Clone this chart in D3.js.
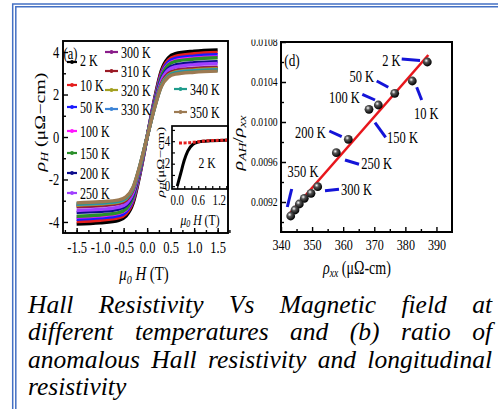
<!DOCTYPE html>
<html>
<head>
<meta charset="utf-8">
<script src="https://cdn.jsdelivr.net/npm/d3@7/dist/d3.min.js"></script>
<style>
  html, body { margin: 0; padding: 0; background: #fff; }
  svg { display: block; }
  text { font-family: "Liberation Serif", "Times New Roman", serif; fill: #000; }
</style>
</head>
<body>
<svg id="fig" width="498" height="409"></svg>
<script>
// ---------- Panel (a): Hall resistivity ρH (μΩ·cm) vs μ0H (T) ----------
const fieldT = [-1.5, -1.0, -0.6, -0.45, -0.3, -0.15, 0, 0.15, 0.3, 0.45, 0.6, 1.0, 1.5];
const rhoH_2K   = [-4.10, -4.04, -3.92, -3.73, -3.12, -1.72, 0, 1.72, 3.12, 3.73, 3.92, 4.04, 4.10];
const rhoH_10K  = [-3.98, -3.92, -3.80, -3.62, -3.02, -1.67, 0, 1.67, 3.02, 3.62, 3.80, 3.92, 3.98];
const rhoH_50K  = [-3.87, -3.81, -3.70, -3.52, -2.94, -1.63, 0, 1.63, 2.94, 3.52, 3.70, 3.81, 3.87];
const rhoH_100K = [-3.77, -3.71, -3.60, -3.43, -2.87, -1.58, 0, 1.58, 2.87, 3.43, 3.60, 3.71, 3.77];
const rhoH_150K = [-3.73, -3.67, -3.56, -3.39, -2.83, -1.57, 0, 1.57, 2.83, 3.39, 3.56, 3.67, 3.73];
const rhoH_200K = [-3.55, -3.50, -3.39, -3.23, -2.70, -1.49, 0, 1.49, 2.70, 3.23, 3.39, 3.50, 3.55];
const rhoH_250K = [-3.46, -3.41, -3.30, -3.15, -2.63, -1.45, 0, 1.45, 2.63, 3.15, 3.30, 3.41, 3.46];
const rhoH_300K = [-3.29, -3.24, -3.14, -2.99, -2.50, -1.38, 0, 1.38, 2.50, 2.99, 3.14, 3.24, 3.29];
const rhoH_310K = [-3.25, -3.20, -3.10, -2.96, -2.47, -1.37, 0, 1.37, 2.47, 2.96, 3.10, 3.20, 3.25];
const rhoH_320K = [-3.21, -3.16, -3.07, -2.92, -2.44, -1.35, 0, 1.35, 2.44, 2.92, 3.07, 3.16, 3.21];
const rhoH_330K = [-3.17, -3.12, -3.03, -2.88, -2.41, -1.33, 0, 1.33, 2.41, 2.88, 3.03, 3.12, 3.17];
const rhoH_340K = [-3.14, -3.09, -3.00, -2.86, -2.39, -1.32, 0, 1.32, 2.39, 2.86, 3.00, 3.09, 3.14];
const rhoH_350K = [-3.10, -3.05, -2.96, -2.82, -2.36, -1.30, 0, 1.30, 2.36, 2.82, 2.96, 3.05, 3.10];

const tempLabels = ["2 K", "10 K", "50 K", "100 K", "150 K", "200 K", "250 K",
                    "300 K", "310 K", "320 K", "330 K", "340 K", "350 K"];
const tempColors = ["#000000", "#e41e1e", "#1a1aff", "#ff14ff", "#2a8f2a", "#0c0c8c", "#a040ff",
                    "#8a1c8a", "#9a1a24", "#a3a020", "#3c84d6", "#1f9c8c", "#9c7a52"];
const hallCurves = [rhoH_2K, rhoH_10K, rhoH_50K, rhoH_100K, rhoH_150K, rhoH_200K, rhoH_250K,
                    rhoH_300K, rhoH_310K, rhoH_320K, rhoH_330K, rhoH_340K, rhoH_350K];

// Inset: 2 K curve (black) and anomalous part (red)
const insetFieldBlack = [0, 0.1, 0.2, 0.3, 0.45, 0.6, 0.8, 1.0, 1.2, 1.45];
const insetRhoBlack   = [0, 1.15, 2.3, 3.12, 3.73, 3.92, 4.00, 4.04, 4.07, 4.10];
const insetFieldRed   = [0.05, 0.15, 0.25, 0.35, 0.45, 0.6, 0.8, 1.0, 1.2, 1.45];
const insetRhoRed     = [3.84, 3.84, 3.85, 3.87, 3.90, 3.96, 4.02, 4.06, 4.08, 4.10];

// ---------- Panel (d): ρAH/ρxx vs ρxx ----------
const ratioTemps = ["2 K", "10 K", "50 K", "100 K", "150 K", "200 K", "250 K",
                    "300 K", "310 K", "320 K", "330 K", "340 K", "350 K"];
const rhoXX     = [387.06, 382.23, 376.57, 371.30, 368.30, 361.65, 357.79, 351.80, 349.65, 347.49, 345.89, 344.50, 343.12];
const ratioAHxx = [0.01060, 0.01041, 0.010287, 0.01017, 0.010127, 0.009827, 0.009693, 0.009353, 0.009287, 0.009237, 0.00918, 0.00912, 0.00906];
const fitRhoXX  = [342.35, 387.38];
const fitRatio  = [0.00907, 0.01067];

// Tick values
const hallFieldTicks = [-1.5, -1.0, -0.5, 0, 0.5, 1.0, 1.5];
const hallRhoTicks   = [-4, -2, 0, 2, 4];
const insetFieldTicks = [0, 0.6, 1.2];
const insetRhoTicks   = [0, 2, 4];
const rhoXXTicks = [340, 350, 360, 370, 380, 390];
const ratioTicks = [0.0092, 0.0096, 0.0100, 0.0104, 0.0108];

const captionLines = [
  "Hall Resistivity Vs Magnetic field at",
  "different temperatures and (b) ratio of",
  "anomalous Hall resistivity and longitudinal",
  "resistivity"
];

// ---------- drawing ----------
const svg = d3.select("#fig");
const defs = svg.append("defs");
const SQ = 0.78;   // horizontal squeeze of the figure lettering

// text helper: parts = string or [{t, it, sub}]
function label(parent, x, y, parts, o = {}) {
  const size = o.size || 15;
  const t = parent.append("text")
    .attr("transform", `translate(${x},${y}) scale(${o.sx ?? SQ},1)` + (o.rot ? ` rotate(${o.rot})` : ""))
    .attr("font-size", size)
    .attr("text-anchor", o.anchor || "middle")
    .attr("dominant-baseline", "central");
  if (typeof parts === "string") { t.text(parts); return t; }
  let shift = 0;
  parts.forEach(p => {
    const s = t.append("tspan").text(p.t);
    const target = p.sub ? size * 0.32 : 0;
    if (target !== shift) { s.attr("dy", target - shift); shift = target; }
    if (p.sub) s.attr("font-size", size * 0.68);
    if (p.it) s.attr("font-style", "italic");
  });
  return t;
}

function styleAxis(g, w) {
  g.attr("font-family", null).attr("font-size", null);
  g.select(".domain").remove();
  g.selectAll(".tick line").attr("stroke", "#000").attr("stroke-width", w || 1.4);
}

// Outer blue double border
const frame = svg.append("g").attr("fill", "none").attr("stroke", "#4470c4").attr("stroke-width", 1.5);
frame.append("path").attr("d", "M12.7,420 V4 H510");
frame.append("path").attr("d", "M15.8,420 V6.8 H510");

// ===== Panel (a) =====
const gA = svg.append("g");
const xA = d3.scaleLinear().domain([-1.79, 1.72]).range([63, 228]);
const yA = d3.scaleLinear().domain([-4.52, 4.52]).range([233, 41]);
const lineA = d3.line().x(d => xA(d[0])).y(d => yA(d[1])).curve(d3.curveMonotoneX);

gA.append("g").selectAll("path")
  .data(hallCurves.map((vals, i) => ({ color: tempColors[i], pts: fieldT.map((h, j) => [h, vals[j]]) })))
  .join("path")
  .attr("d", d => lineA(d.pts))
  .attr("fill", "none")
  .attr("stroke", d => d.color)
  .attr("stroke-width", 3.4)
  .attr("stroke-linejoin", "round");

// Inset
const xI = d3.scaleLinear().domain([-0.15, 1.45]).range([172, 228]);
const yI = d3.scaleLinear().domain([-0.25, 5.35]).range([189, 126]);
gA.append("rect").attr("x", 172).attr("y", 126).attr("width", 56).attr("height", 63)
  .attr("fill", "#fff");
defs.append("clipPath").attr("id", "insetClip")
  .append("rect").attr("x", 172).attr("y", 126).attr("width", 56).attr("height", 63);
const gI = gA.append("g").attr("clip-path", "url(#insetClip)");
const lineI = d3.line().x(d => xI(d[0])).y(d => yI(d[1])).curve(d3.curveMonotoneX);
gI.append("path").attr("d", lineI(insetFieldBlack.map((h, i) => [h, insetRhoBlack[i]])))
  .attr("fill", "none").attr("stroke", "#000").attr("stroke-width", 3);
gI.append("path").attr("d", lineI(insetFieldRed.map((h, i) => [h, insetRhoRed[i]])))
  .attr("fill", "none").attr("stroke", "#e41e1e").attr("stroke-width", 3).attr("stroke-dasharray", "3 1.6");

gA.append("g").attr("transform", "translate(0,189)")
  .call(d3.axisBottom(xI).tickValues(d3.range(0, 1.41, 0.2)).tickSize(-3).tickFormat(""))
  .call(styleAxis, 1.2);
gA.append("g").attr("transform", "translate(172,0)")
  .call(d3.axisLeft(yI).tickValues(d3.range(0, 5.1, 1)).tickSize(-3).tickFormat(""))
  .call(styleAxis, 1.2);
gA.append("rect").attr("x", 172).attr("y", 126).attr("width", 56).attr("height", 63)
  .attr("fill", "none").attr("stroke", "#000").attr("stroke-width", 1.7);
insetRhoTicks.forEach(v => label(gA, 167.5, yI(v), String(v), { size: 14 }));
insetFieldTicks.forEach(v => label(gA, xI(v), 201, v.toFixed(1), { size: 14 }));
label(gA, 207, 163, "2 K", { size: 15 });
label(gA, 200, 219, [{ t: "μ", it: true }, { t: "0", sub: true, it: true }, { t: " H", it: true }, { t: " (T)" }], { size: 15 });
label(gA, 160, 162, [{ t: "ρ", it: true }, { t: "H", sub: true, it: true }, { t: "(μΩ−cm)" }], { size: 15, rot: -90, sx: 0.72 });

// Main frame and ticks of (a)
gA.append("rect").attr("x", 63).attr("y", 41).attr("width", 165).attr("height", 192)
  .attr("fill", "none").attr("stroke", "#000").attr("stroke-width", 1.9);
const axXA = gA.append("g").attr("transform", "translate(0,233)")
  .call(d3.axisBottom(xA).tickValues(hallFieldTicks).tickSize(-5).tickPadding(9).tickFormat(v => v.toFixed(1)))
  .call(styleAxis);
gA.append("g").attr("transform", "translate(0,233)")
  .call(d3.axisBottom(xA).tickValues(d3.range(-1.75, 1.76, 0.25)).tickSize(-3).tickFormat(""))
  .call(styleAxis);
const axYA = gA.append("g").attr("transform", "translate(63,0)")
  .call(d3.axisLeft(yA).tickValues(hallRhoTicks).tickSize(-5).tickPadding(5).tickFormat(v => String(v)))
  .call(styleAxis);
gA.append("g").attr("transform", "translate(63,0)")
  .call(d3.axisLeft(yA).tickValues([-3, -1, 1, 3]).tickSize(-3).tickFormat(""))
  .call(styleAxis);
[axXA, axYA].forEach(ax => ax.selectAll("text").attr("font-size", 16).attr("transform", `scale(${SQ},1)`));

label(gA, 144, 273, [{ t: "μ", it: true }, { t: "0", sub: true, it: true }, { t: " H", it: true }, { t: " (T)" }], { size: 19 });
label(gA, 40, 122, [{ t: "ρ", it: true }, { t: "H", sub: true, it: true }, { t: " (μΩ−cm)" }], { size: 20, rot: -90, sx: 0.72 });
label(gA, 70.5, 53, "(a)", { size: 16 });

// Legend of (a)
const legendSpots = [[67, 62], [67, 85], [67, 107], [67, 131], [67, 153], [67, 173], [67, 193],
                     [105, 52], [105, 71], [105, 90], [105, 109], [174, 89], [174, 112]];
const legG = gA.append("g");
tempLabels.forEach((lab, i) => {
  const [lx, ly] = legendSpots[i];
  const w = i < 7 ? 10 : 13;
  legG.append("line").attr("x1", lx).attr("x2", lx + w).attr("y1", ly).attr("y2", ly)
    .attr("stroke", tempColors[i]).attr("stroke-width", 2.2);
  legG.append("circle").attr("cx", lx + w / 2).attr("cy", ly).attr("r", 1.9).attr("fill", tempColors[i]);
  const tx = i === 0 ? lx + 13 : lx + w + 3;
  label(legG, tx, i === 0 ? ly - 2 : ly, lab, { size: 16, anchor: "start", sx: 0.75 });
});

// ===== Panel (d) =====
const gD = svg.append("g");
const xD = d3.scaleLinear().domain([340, 395]).range([281, 452]);
const yD = d3.scaleLinear().domain([0.0089, 0.0108]).range([232, 42]);

const grad = defs.append("radialGradient").attr("id", "ball")
  .attr("cx", "38%").attr("cy", "35%").attr("r", "65%");
grad.append("stop").attr("offset", "0%").attr("stop-color", "#ffffff");
grad.append("stop").attr("offset", "35%").attr("stop-color", "#555");
grad.append("stop").attr("offset", "100%").attr("stop-color", "#000");

gD.append("rect").attr("x", 281).attr("y", 42).attr("width", 171).attr("height", 190)
  .attr("fill", "none").attr("stroke", "#000").attr("stroke-width", 2);

const axXD = gD.append("g").attr("transform", "translate(0,232)")
  .call(d3.axisBottom(xD).tickValues(rhoXXTicks).tickSize(-5).tickPadding(7).tickFormat(d3.format("d")))
  .call(styleAxis);
gD.append("g").attr("transform", "translate(0,232)")
  .call(d3.axisBottom(xD).tickValues(d3.range(345, 395, 10)).tickSize(-3).tickFormat(""))
  .call(styleAxis);
// the top tick label is cut by the upper edge of the figure image
defs.append("clipPath").attr("id", "topCut")
  .append("rect").attr("x", -300).attr("y", 39.5).attr("width", 800).attr("height", 400);
const axYD = gD.append("g").attr("transform", "translate(281,0)")
  .call(d3.axisLeft(yD).tickValues(ratioTicks).tickSize(-5).tickPadding(4).tickFormat(d3.format(".4f")))
  .call(styleAxis);
axYD.attr("clip-path", "url(#topCut)");
gD.append("g").attr("transform", "translate(281,0)")
  .call(d3.axisLeft(yD).tickValues([0.0090, 0.0094, 0.0098, 0.0102, 0.0106]).tickSize(-3).tickFormat(""))
  .call(styleAxis);
axXD.selectAll("text").attr("font-size", 15.5).attr("transform", `scale(${SQ},1)`);
axYD.selectAll("text").attr("font-size", 11.5).attr("transform", "scale(0.84,1)");

// linear fit
gD.append("line")
  .attr("x1", xD(fitRhoXX[0])).attr("y1", yD(fitRatio[0]))
  .attr("x2", xD(fitRhoXX[1])).attr("y2", yD(fitRatio[1]))
  .attr("stroke", "#e8161c").attr("stroke-width", 2.6);

// leader lines and temperature labels: offsets from each point (px)
const tagLayout = {
  "2 K":   { lab: [-36, -2],  a: [-25.6, -3],   b: [-7.3, -1.6] },
  "10 K":  { lab: [14, 32],   a: [4.4, 6.3],    b: [9.4, 19] },
  "50 K":  { lab: [-33, -17], a: [-18, -12.3],  b: [-6.4, -6] },
  "100 K": { lab: [-34, -8],  a: [-16, -10.7],  b: [-3.3, -5] },
  "150 K": { lab: [33.5, 27.7], a: [6, 13.4],   b: [16.7, 28] },
  "200 K": { lab: [-38, -7],  a: [-19, -8.3],   b: [-6.6, -2.6] },
  "250 K": { lab: [40.4, 10.3], a: [8.7, 7.3],  b: [22.7, 11.6] },
  "300 K": { lab: [38.8, 2.3], a: [7.3, 4],     b: [21.3, 2.6] },
  "350 K": { lab: [12.3, -45], a: [1, -27],     b: [-3.4, -9] }
};
ratioTemps.forEach((tname, i) => {
  const L = tagLayout[tname];
  if (!L) return;
  const px = xD(rhoXX[i]), py = yD(ratioAHxx[i]);
  gD.append("line")
    .attr("x1", px + L.a[0]).attr("y1", py + L.a[1])
    .attr("x2", px + L.b[0]).attr("y2", py + L.b[1])
    .attr("stroke", "#1414d8").attr("stroke-width", 3);
  label(gD, px + L.lab[0], py + L.lab[1], tname, { size: 16, sx: 0.78 });
});

// data points
gD.append("g").selectAll("circle")
  .data(rhoXX.map((x, i) => [x, ratioAHxx[i]]))
  .join("circle")
  .attr("cx", d => xD(d[0])).attr("cy", d => yD(d[1])).attr("r", 4.4)
  .attr("fill", "url(#ball)");

label(gD, 292, 60, "(d)", { size: 17 });
label(gD, 357, 267, [{ t: "ρ", it: true }, { t: "xx", sub: true, it: true }, { t: " (μΩ-cm)" }], { size: 18 });
label(gD, 238, 143, [{ t: "ρ", it: true }, { t: "AH", sub: true, it: true }, { t: "/" }, { t: "ρ", it: true }, { t: "xx", sub: true, it: true }],
  { size: 20, rot: -90, sx: 0.72 });

// ===== Caption (justified) =====
const cap = svg.append("g").attr("font-size", 25.5).attr("font-style", "italic");
const left = 28, right = 492;
captionLines.forEach((ln, i) => {
  const y = 313 + i * 27.3;
  const words = ln.split(" ");
  const last = i === captionLines.length - 1;
  const nodes = words.map(w => cap.append("text").attr("y", y).text(w));
  const widths = nodes.map(n => n.node().getComputedTextLength());
  const total = d3.sum(widths);
  const gap = last || words.length < 2 ? 6.4 : (right - left - total) / (words.length - 1);
  let x = left;
  nodes.forEach((n, k) => { n.attr("x", x); x += widths[k] + gap; });
});
</script>
</body>
</html>
